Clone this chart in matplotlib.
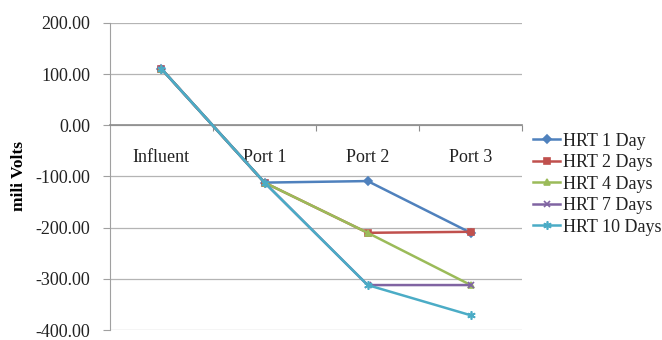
import matplotlib
matplotlib.use("Agg")
import matplotlib.pyplot as plt
from matplotlib.ticker import FixedLocator, FuncFormatter

categories = ["Influent", "Port 1", "Port 2", "Port 3"]
series_names = ["HRT 1 Day", "HRT 2 Days", "HRT 4 Days", "HRT 7 Days", "HRT 10 Days"]
hrt_1 = [110, -112, -109, -210]
hrt_2 = [110, -112, -210, -208]
hrt_4 = [110, -112, -210, -312]
hrt_7 = [110, -112, -312, -312]
hrt_10 = [110, -112, -312, -371]
y_ticks = [200, 100, 0, -100, -200, -300, -400]

series = [hrt_1, hrt_2, hrt_4, hrt_7, hrt_10]
colors = ["#4F81BD", "#C0504D", "#9BBB59", "#8064A2", "#4BACC6"]
markers = ["D", "s", "^", "x", (6, 2, 0)]
msizes = [4, 5, 5, 5, 6]

plt.rcParams["font.family"] = ["Liberation Serif", "DejaVu Serif"]

fig = plt.figure(figsize=(6.62, 3.4), dpi=100)
ax = fig.add_axes([0.166, 0.029, 0.623, 0.904])

x = list(range(len(categories)))
for vals, name, c, m, ms in zip(series, series_names, colors, markers, msizes):
    ax.plot(x, vals, color=c, lw=1.8, marker=m, markersize=ms,
            markeredgewidth=1.2, label=name, zorder=3)

ax.set_xlim(-0.5, len(categories) - 0.5)
ax.set_ylim(-400, 200)
ax.set_yticks(y_ticks)
ax.yaxis.set_major_formatter(FuncFormatter(lambda v, p: f"{v:.2f}"))
ax.grid(axis="y", color="#b4b4b4", lw=0.9)
ax.set_axisbelow(True)

for s in ["top", "right"]:
    ax.spines[s].set_visible(False)
ax.spines["left"].set_color("#a0a0a0")
ax.spines["bottom"].set_position(("data", 0))
ax.spines["bottom"].set_color("#8c8c8c")
ax.spines["bottom"].set_linewidth(1.2)

# category boundaries as ticks, names centred between them
ax.xaxis.set_major_locator(FixedLocator([i + 0.5 for i in x]))
ax.xaxis.set_major_formatter(FuncFormatter(lambda v, p: ""))
ax.xaxis.set_minor_locator(FixedLocator(x))
ax.set_xticklabels(categories, minor=True)
ax.tick_params(axis="x", which="major", direction="out", length=4, color="#8c8c8c")
ax.tick_params(axis="x", which="minor", length=0, pad=17, labelsize=13, labelcolor="#222222")
ax.tick_params(axis="y", direction="out", length=5, color="#a0a0a0",
               labelsize=13, labelcolor="#222222", pad=9)

ax.set_ylabel("mili Volts", fontsize=12.5, fontweight="bold", labelpad=6)

leg = ax.legend(loc="center left", bbox_to_anchor=(1.0, 0.475), frameon=False,
                fontsize=13, handlelength=1.5, handletextpad=0.15,
                labelspacing=0.25, borderaxespad=0.2)
for t in leg.get_texts():
    t.set_color("#222222")

fig.savefig("out.png", dpi=100)
